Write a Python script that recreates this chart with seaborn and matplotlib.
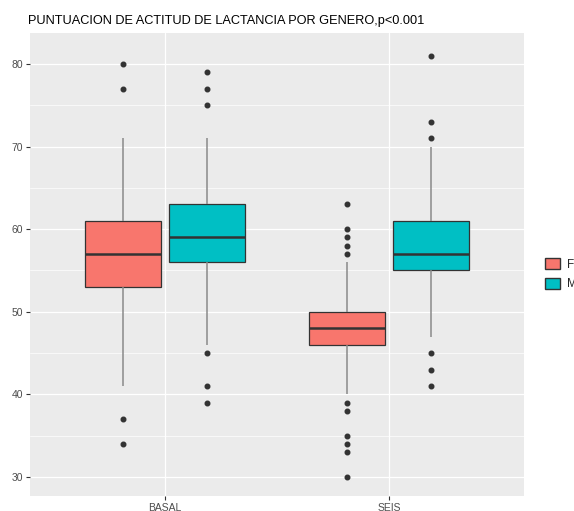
import numpy as np
import pandas as pd
import matplotlib.pyplot as plt
import seaborn as sns
from matplotlib.patches import Patch

# values
momentos = ["BASAL", "BASAL", "SEIS", "SEIS"]
generos = ["F", "M", "F", "M"]
q1 = [53, 56, 46, 55]
mediana = [57, 59, 48, 57]
q3 = [61, 63, 50, 61]
bigote_inf = [41, 46, 40, 47]
bigote_sup = [71, 71, 56, 70]
atipicos = [
    [34, 37, 77, 80],
    [39, 41, 45, 75, 77, 79],
    [30, 33, 34, 35, 38, 39, 57, 58, 59, 60, 63],
    [41, 43, 45, 71, 73, 81],
]

colores = {"F": "#F8766D", "M": "#00BFC4"}


def muestra(i):
    # sample that reproduces the read box statistics
    vals = list(atipicos[i]) + [bigote_inf[i], bigote_sup[i]]
    vals += [q1[i]] * 40 + [mediana[i]] * 40 + [q3[i]] * 40
    return vals


rows = []
for i in range(len(momentos)):
    for v in muestra(i):
        rows.append({"momento": momentos[i], "genero": generos[i], "puntuacion": v})
df = pd.DataFrame(rows)

sns.set_theme(style="darkgrid")
plt.rcParams["font.family"] = ["Liberation Sans", "DejaVu Sans"]

fig = plt.figure(figsize=(5.74, 5.11), dpi=100)
ax = fig.add_axes([30 / 574, 1 - 496 / 511, 494 / 574, 463 / 511])
ax.set_facecolor("#EBEBEB")

sns.boxplot(
    data=df, x="momento", y="puntuacion", hue="genero",
    order=["BASAL", "SEIS"], hue_order=["F", "M"], palette=colores,
    width=0.75, gap=0.1, whis=1.5, saturation=1, linecolor="#333333",
    linewidth=0.9,
    whiskerprops={"color": "#8a8a8a", "linewidth": 1.1},
    capprops={"linewidth": 0},
    medianprops={"color": "#333333", "linewidth": 1.8},
    flierprops={"marker": "o", "markersize": 3.3, "markerfacecolor": "#333333",
                "markeredgecolor": "#333333"},
    legend=False, ax=ax,
)

ax.set_xlim(-0.6, 1.6)
ax.set_ylim(27.7, 83.75)
ax.set_yticks([30, 40, 50, 60, 70, 80])
ax.set_yticks([35, 45, 55, 65, 75], minor=True)
ax.grid(which="major", color="white", linewidth=0.9)
ax.grid(which="minor", axis="y", color="white", linewidth=0.5)
ax.set_axisbelow(True)
ax.set_xlabel("")
ax.set_ylabel("")
for s in ax.spines.values():
    s.set_visible(False)
ax.tick_params(axis="both", which="major", length=3, width=0.8, color="#333333",
               labelsize=7.5, labelcolor="#4D4D4D", pad=2, left=True, bottom=True)
ax.tick_params(axis="both", which="minor", length=0)

fig.text(28 / 574, 1 - 21 / 511, "PUNTUACION DE ACTITUD DE LACTANCIA POR GENERO,p<0.001",
         fontsize=9.2, color="black", va="center", ha="left")

handles = [Patch(facecolor=colores[g], edgecolor="#333333", linewidth=1) for g in ["F", "M"]]
leg = fig.legend(handles, ["F", "M"], loc="upper left",
                 bbox_to_anchor=(545 / 574, 1 - 258 / 511), frameon=False,
                 fontsize=8.5, handlelength=1.3, handleheight=1.1,
                 handletextpad=0.55, labelspacing=0.6, borderpad=0, borderaxespad=0)

fig.savefig("out.png", dpi=100)
